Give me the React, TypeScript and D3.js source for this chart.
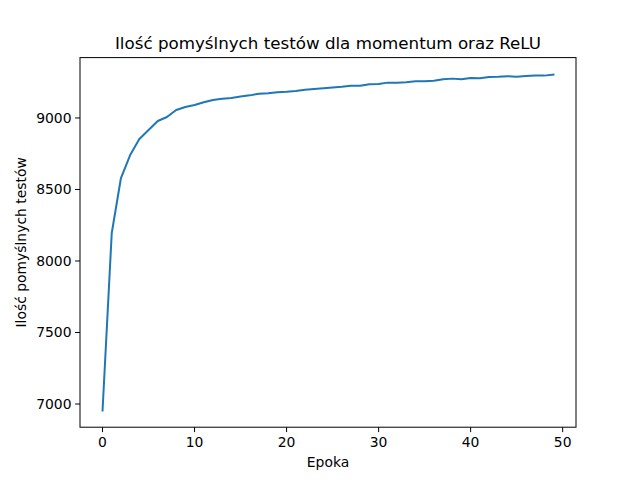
import React, { useEffect, useRef } from 'react';
import * as d3 from 'd3';

const values = [
  6955, 8196, 8580, 8741, 8853, 8916, 8979, 9007, 9056, 9077,
  9091, 9110, 9125, 9135, 9140, 9150, 9158, 9170, 9172, 9180,
  9183, 9188, 9198, 9203, 9208, 9213, 9218, 9225, 9225, 9235,
  9237, 9247, 9247, 9250, 9256, 9257, 9260, 9270, 9275, 9270,
  9280, 9278, 9287, 9288, 9292, 9288, 9293, 9297, 9296, 9303,
];
const xTicks = [0, 10, 20, 30, 40, 50];
const yTicks = [7000, 7500, 8000, 8500, 9000];

const App: React.FC = () => {
  const svgRef = useRef<SVGSVGElement>(null);

  useEffect(() => {
    if (!svgRef.current) return;
    const svg = d3.select(svgRef.current);
    svg.selectAll('*').remove();

    const left = 80, right = 576, top = 57.6, bottom = 427.2;
    const x = d3.scaleLinear().domain([-2.45, 51.45]).range([left, right]);
    const y = d3.scaleLinear().domain([6838, 9422]).range([bottom, top]);
    const font = 'DejaVu Sans, sans-serif';
    const fs = 13.9;

    svg.append('rect').attr('width', 640).attr('height', 480).attr('fill', '#fff');

    const line = d3.line<number>().x((_, i) => x(i)).y(d => y(d));
    svg.append('path').datum(values).attr('d', line)
      .attr('fill', 'none').attr('stroke', '#1f77b4').attr('stroke-width', 2)
      .attr('stroke-linejoin', 'round').attr('stroke-linecap', 'square');

    svg.append('rect').attr('x', left).attr('y', top)
      .attr('width', right - left).attr('height', bottom - top)
      .attr('fill', 'none').attr('stroke', '#000').attr('stroke-width', 1);

    xTicks.forEach(t => {
      svg.append('line').attr('x1', x(t)).attr('x2', x(t)).attr('y1', bottom).attr('y2', bottom + 4.9)
        .attr('stroke', '#000').attr('stroke-width', 1);
      svg.append('text').attr('x', x(t)).attr('y', bottom + 20).attr('text-anchor', 'middle')
        .attr('font-family', font).attr('font-size', fs).text(t);
    });
    yTicks.forEach(t => {
      svg.append('line').attr('x1', left - 4.9).attr('x2', left).attr('y1', y(t)).attr('y2', y(t))
        .attr('stroke', '#000').attr('stroke-width', 1);
      svg.append('text').attr('x', left - 8.5).attr('y', y(t)).attr('dy', '0.35em').attr('text-anchor', 'end')
        .attr('font-family', font).attr('font-size', fs).text(t);
    });

    svg.append('text').attr('x', (left + right) / 2).attr('y', 467).attr('text-anchor', 'middle')
      .attr('font-family', font).attr('font-size', fs).text('Epoka');
    svg.append('text').attr('transform', `translate(26,${(top + bottom) / 2}) rotate(-90)`)
      .attr('text-anchor', 'middle').attr('font-family', font).attr('font-size', fs)
      .text('Ilość pomyślnych testów');
    svg.append('text').attr('x', (left + right) / 2).attr('y', 49).attr('text-anchor', 'middle')
      .attr('font-family', font).attr('font-size', 16.7)
      .text('Ilość pomyślnych testów dla momentum oraz ReLU');
  }, []);

  return <svg ref={svgRef} width={640} height={480} style={{ display: 'block', margin: -8 }} />;
};

export default App;
